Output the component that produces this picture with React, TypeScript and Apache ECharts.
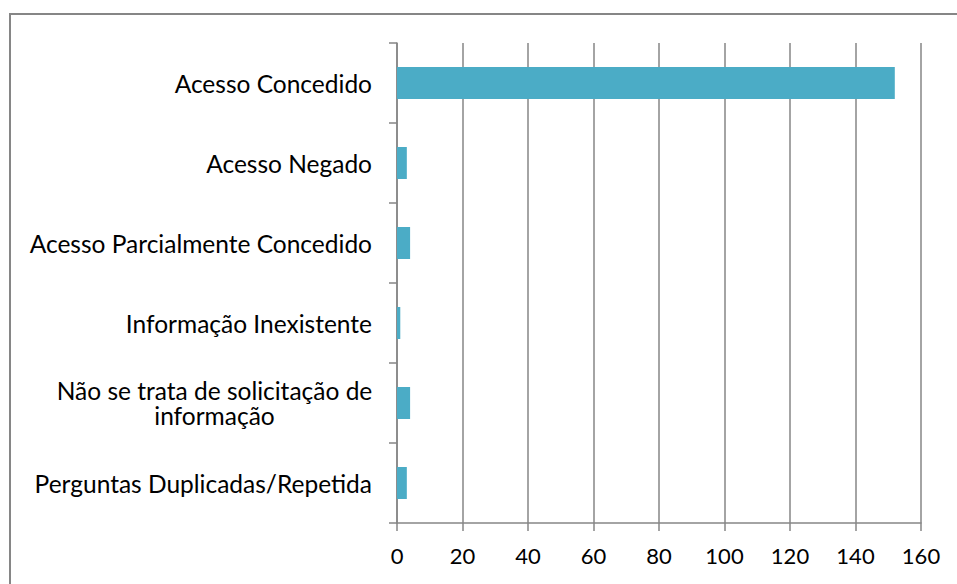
import React, { useEffect, useRef } from "react";
import * as echarts from "echarts";

const categories = [
  "Acesso Concedido",
  "Acesso Negado",
  "Acesso Parcialmente Concedido",
  "Informação Inexistente",
  "Não se trata de solicitação de\ninformação",
  "Perguntas Duplicadas/Repetida",
];
const values = [152, 3, 4, 1, 4, 3];
const xMin = 0;
const xMax = 160;
const xInterval = 20;

const FONT = "Lato";
const LINE = "#868686";
const CAT_SIZE = 24.5;

export default function App() {
  const ref = useRef<HTMLDivElement>(null);
  useEffect(() => {
    if (!ref.current) return;
    const chart = echarts.init(ref.current, null, { renderer: "svg" });
    chart.setOption({
      animation: false,
      backgroundColor: "#ffffff",
      grid: { left: 397, right: 36, top: 43, bottom: 61, containLabel: false },
      xAxis: {
        type: "value",
        min: xMin,
        max: xMax,
        interval: xInterval,
        axisLine: { show: true, lineStyle: { color: LINE, width: 1.5 } },
        axisTick: { show: true, length: 8, lineStyle: { color: LINE, width: 1.5 } },
        splitLine: { show: true, lineStyle: { color: LINE, width: 1.5 } },
        axisLabel: { color: "#000", fontFamily: FONT, fontSize: 22, margin: 21 },
      },
      yAxis: {
        type: "category",
        data: categories,
        inverse: true,
        axisLine: { show: true, lineStyle: { color: LINE, width: 1.5 } },
        axisTick: { show: true, length: 8, lineStyle: { color: LINE, width: 1.5 } },
        axisLabel: {
          color: "#000",
          fontFamily: FONT,
          fontSize: CAT_SIZE,
          margin: 25,
          lineHeight: 25,
          formatter: (v: string) => (v.includes("\n") ? `{c|${v}}` : v),
          rich: {
            c: {
              width: 315,
              align: "center",
              color: "#000",
              fontFamily: FONT,
              fontSize: CAT_SIZE,
              lineHeight: 25,
            },
          },
        },
      },
      series: [
        {
          type: "bar",
          data: values,
          barCategoryGap: "60%",
          itemStyle: { color: "#4BACC6" },
        },
      ],
      graphic: [
        {
          type: "rect",
          shape: { x: 10, y: 14, width: 1000, height: 700 },
          style: { fill: "none", stroke: LINE, lineWidth: 2 },
          silent: true,
        },
      ],
    });
    return () => chart.dispose();
  }, []);
  return (
    <div
      ref={ref}
      style={{ position: "fixed", left: 0, top: 0, width: 957, height: 584 }}
    />
  );
}
